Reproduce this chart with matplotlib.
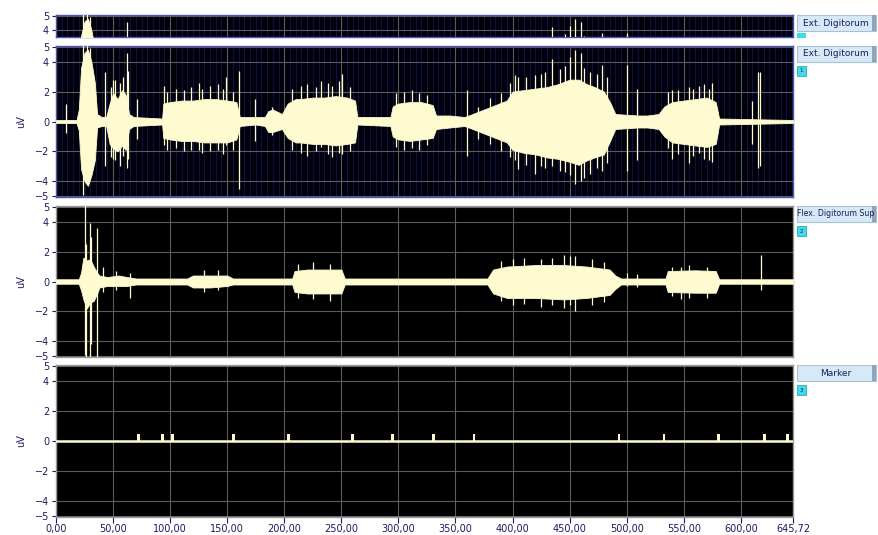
import numpy as np
import matplotlib
matplotlib.use("Agg")
import matplotlib.pyplot as plt
from matplotlib.patches import Rectangle
from matplotlib.ticker import MultipleLocator, FixedLocator

# --- channel 1: Ext. Digitorum (envelope knots + single spikes), seconds / uV
ch1_t = [0, 18, 20, 22, 25, 28, 31, 34, 36, 40, 44, 47, 50, 54, 58, 61, 64, 68, 93, 94, 100,
         110, 120, 130, 140, 150, 158, 161, 175, 183, 186, 190, 198, 203, 210, 214, 225, 235,
         245, 255, 262, 264, 293, 295, 300, 310, 320, 330, 333, 345, 358, 365, 375, 385, 395,
         400, 410, 420, 430, 440, 450, 458, 465, 472, 480, 486, 490, 510, 518, 528, 533, 540,
         550, 560, 570, 578, 581, 645.72]
ch1_up = [0.1, 0.1, 0.8, 3.6, 4.6, 4.8, 4.0, 2.6, 0.5, 0.3, 0.3, 1.2, 1.9, 1.5, 2.1, 1.8, 0.5,
          0.3, 0.2, 1.2, 1.3, 1.4, 1.4, 1.5, 1.5, 1.4, 1.3, 0.3, 0.3, 0.3, 0.7, 0.8, 0.5, 1.2,
          1.5, 1.5, 1.6, 1.6, 1.7, 1.6, 1.4, 0.3, 0.3, 1.0, 1.2, 1.3, 1.3, 1.1, 0.4, 0.4, 0.3,
          0.5, 0.8, 1.1, 1.4, 2.0, 2.1, 2.2, 2.3, 2.5, 2.8, 2.8, 2.5, 2.3, 2.0, 1.2, 0.5, 0.4,
          0.4, 0.5, 1.0, 1.3, 1.4, 1.5, 1.6, 1.3, 0.2, 0.1]
ch1_lo = [-0.1, -0.1, -0.6, -3.2, -4.0, -4.3, -3.6, -2.6, -0.4, -0.3, -0.3, -1.5, -1.8, -2.0,
          -1.6, -1.9, -0.5, -0.3, -0.2, -1.1, -1.2, -1.3, -1.3, -1.4, -1.4, -1.4, -1.2, -0.3,
          -0.2, -0.3, -0.7, -0.7, -0.5, -1.1, -1.4, -1.4, -1.5, -1.5, -1.6, -1.5, -1.4, -0.2,
          -0.3, -1.0, -1.2, -1.3, -1.2, -1.1, -0.5, -0.4, -0.3, -0.5, -0.8, -1.1, -1.4, -1.9,
          -2.1, -2.2, -2.4, -2.5, -2.7, -2.9, -2.6, -2.4, -2.2, -1.2, -0.5, -0.4, -0.4, -0.5,
          -1.0, -1.4, -1.5, -1.6, -1.7, -1.5, -0.2, -0.1]
ch1_spk_t = [8.5, 24, 27, 30, 43, 48, 50, 52, 56, 59, 62.5, 63.5, 71, 94.5, 97, 102, 105, 112,
             118, 125, 128, 135, 142, 146, 149, 155, 160, 174, 189, 207, 215, 220, 228, 232,
             238, 242, 248, 251, 258, 298, 305, 312, 318, 325, 360, 370, 380, 390, 398, 402,
             405, 412, 420, 425, 428, 435, 442, 446, 450, 455, 460, 463, 468, 474, 478, 483,
             500, 509, 536, 540, 545, 555, 558, 563, 568, 572, 575, 610, 615, 617]
ch1_spk_up = [1.2, 5.2, 5.3, 4.9, 3.3, 2.3, 2.8, 2.8, 2.6, 3.0, 4.6, 3.4, 1.5, 2.4, 2.0, 1.0,
              2.2, 2.1, 2.3, 2.6, 2.2, 2.4, 2.5, 2.2, 3.0, 2.0, 3.4, 1.5, 1.0, 2.2, 2.4, 2.5,
              2.3, 2.7, 2.6, 2.4, 2.7, 3.2, 2.3, 1.9, 2.0, 2.1, 1.9, 1.8, 2.1, 1.0, 1.6, 1.9,
              2.6, 3.1, 3.0, 3.0, 3.1, 3.2, 3.3, 4.2, 3.5, 3.7, 4.3, 4.8, 4.6, 3.6, 3.3, 3.2,
              3.8, 3.0, 3.8, 2.2, 2.0, 2.1, 2.1, 2.3, 2.2, 2.4, 2.5, 2.2, 2.6, 1.4, 3.3, 3.3]
ch1_spk_lo = [-0.8, -4.9, -4.2, -3.5, -3.0, -2.4, -2.5, -2.6, -3.0, -2.3, -3.1, -2.5, -1.2,
              -1.6, -1.9, -0.8, -1.8, -2.0, -1.9, -1.9, -2.1, -2.0, -1.9, -2.2, -1.6, -1.9,
              -4.5, -1.3, -0.9, -1.9, -2.1, -2.3, -2.0, -1.7, -2.2, -2.4, -2.1, -2.2, -2.0,
              -1.7, -1.9, -1.8, -1.9, -1.6, -2.3, -1.2, -1.5, -2.0, -2.4, -2.6, -3.2, -2.9,
              -3.5, -3.0, -3.1, -3.0, -3.3, -3.4, -3.6, -4.2, -4.0, -3.8, -3.5, -3.1, -3.3,
              -2.8, -3.3, -2.6, -1.8, -2.5, -2.2, -2.8, -2.3, -2.1, -2.5, -2.6, -2.7, -1.5,
              -3.1, -3.0]

# --- channel 2: Flex. Digitorum Sup
ch2_t = [0, 20, 22, 24, 27, 30, 33, 36, 38, 45, 55, 62, 70, 115, 120, 135, 150, 155, 207, 209,
         220, 235, 250, 253, 378, 383, 395, 420, 445, 465, 485, 490, 495, 534, 536, 560, 578,
         581, 645.72]
ch2_up = [0.15, 0.15, 0.6, 1.6, 1.4, 1.5, 1.0, 0.6, 0.4, 0.3, 0.4, 0.3, 0.2, 0.2, 0.4, 0.4,
          0.4, 0.2, 0.2, 0.7, 0.8, 0.8, 0.8, 0.2, 0.2, 0.8, 1.0, 1.1, 1.1, 1.0, 0.8, 0.4, 0.2,
          0.2, 0.7, 0.75, 0.7, 0.15, 0.15]
ch2_lo = [-0.15, -0.15, -0.6, -1.2, -1.8, -1.4, -1.3, -0.8, -0.4, -0.3, -0.3, -0.3, -0.2, -0.2,
          -0.4, -0.4, -0.3, -0.2, -0.2, -0.7, -0.8, -0.8, -0.8, -0.2, -0.2, -0.8, -1.1, -1.1,
          -1.2, -1.1, -0.9, -0.5, -0.2, -0.2, -0.7, -0.75, -0.75, -0.15, -0.15]
ch2_spk_t = [25.4, 26.5, 29.8, 31, 35.6, 41, 53, 65, 130, 142, 212, 225, 240, 390, 400, 410,
             425, 435, 445, 450, 455, 470, 480, 500, 509, 540, 548, 555, 570, 618]
ch2_spk_up = [5.1, 2.5, 3.9, 3.0, 3.6, 1.0, 0.7, 0.6, 0.8, 0.8, 1.2, 1.3, 1.2, 1.4, 1.5, 1.6,
              1.5, 1.6, 1.8, 1.7, 1.7, 1.5, 1.3, 0.6, 0.5, 1.0, 1.0, 1.1, 1.0, 1.8]
ch2_spk_lo = [-4.9, -5.1, -5.1, -4.2, -5.1, -0.7, -0.6, -1.1, -0.7, -0.6, -1.1, -1.2, -1.3,
              -1.3, -1.6, -1.5, -1.7, -1.6, -1.8, -1.6, -2.0, -1.6, -1.4, -0.3, -0.4, -1.0,
              -1.2, -1.1, -1.1, -0.6]

# --- channel 3: Marker pulses
marker_t = [72.1, 93.5, 102.2, 155.4, 203.9, 259.7, 294.7, 330.6, 366.3, 493.3, 532.7, 580.3,
            620.6, 640.8]
marker_h = [0.48] * len(marker_t)

t_end = 645.72
x_ticks = [0, 50, 100, 150, 200, 250, 300, 350, 400, 450, 500, 550, 600, 645.72]
y_ticks = [5, 4, 2, 0, -2, -4, -5]
labels = ["Ext. Digitorum", "Ext. Digitorum", "Flex. Digitorum Sup", "Marker"]

sig = "#fffbd0"
navy = "#1b1b5e"

fig = plt.figure(figsize=(8.79, 5.35), dpi=100)
L, W = 56 / 879, 737 / 879
rows = [(15, 37), (46, 197), (206, 357), (365, 517)]
axes = []
for top, bot in rows:
    axes.append(fig.add_axes([L, 1 - bot / 535, W, (bot - top) / 535]))


def draw_emg(ax, t, up, lo, st, su, sl):
    ax.fill_between(t, lo, up, color=sig, lw=0.6, edgecolor=sig, zorder=3)
    ax.vlines(st, sl, su, color=sig, lw=0.9, zorder=3)


for i, ax in enumerate(axes):
    blue = i < 2
    ax.set_facecolor("#00000c" if blue else "black")
    ax.set_xlim(0, t_end)
    if i == 0:
        ax.set_ylim(3.5, 5.07)
        ax.set_yticks([5, 4])
    else:
        ax.set_ylim(-5.05, 5.05)
        ax.set_yticks(y_ticks)
        ax.set_ylabel("uV", fontsize=7, color=navy, labelpad=6)
    ax.xaxis.set_major_locator(FixedLocator(x_ticks[:-1]))
    ax.grid(True, which="major", color="#5c5c5c", lw=0.8, zorder=1)
    if blue:
        ax.xaxis.set_minor_locator(MultipleLocator(5))
        ax.grid(True, which="minor", axis="x", color="#111848", lw=0.6, zorder=0)
    for s in ax.spines.values():
        s.set_color("#4a55b0" if blue else "#9a9a9a")
        s.set_linewidth(1.0)
    ax.tick_params(axis="y", labelsize=7, colors=navy, length=3, pad=2)
    ax.tick_params(axis="x", which="both", length=0, labelbottom=False)

for ax in axes[:2]:
    draw_emg(ax, ch1_t, ch1_up, ch1_lo, ch1_spk_t, ch1_spk_up, ch1_spk_lo)
draw_emg(axes[2], ch2_t, ch2_up, ch2_lo, ch2_spk_t, ch2_spk_up, ch2_spk_lo)

ax = axes[3]
ax.axhline(0, color=sig, lw=1.8, zorder=3)
ax.bar(marker_t, marker_h, width=2.2, color=sig, zorder=3)
ax.set_xticks(x_ticks)
ax.set_xticklabels([f"{v:.2f}".replace(".", ",") for v in x_ticks])
ax.tick_params(axis="x", labelbottom=True, length=4, colors=navy, labelsize=7, pad=1)

# channel name buttons on the right
bx, bw = 797, 79
for i, (top, bot) in enumerate(rows):
    fig.patches.append(Rectangle((bx / 879, 1 - (top + 16) / 535), bw / 879, 16 / 535,
                                 transform=fig.transFigure, fc="#d5e9f6", ec="#aebfcf",
                                 lw=0.8))
    fig.patches.append(Rectangle(((bx + bw - 4) / 879, 1 - (top + 16) / 535), 4 / 879,
                                 16 / 535, transform=fig.transFigure, fc="#8fa6bd", lw=0))
    fs = 5.6 if len(labels[i]) > 16 else 6.5
    fig.text((bx + bw / 2 - 1) / 879, 1 - (top + 8) / 535, labels[i], fontsize=fs,
             color=navy, va="center", ha="center")
    if i == 0:
        fig.patches.append(Rectangle((bx / 879, 1 - 38 / 535), 9 / 879, 5 / 535,
                                     transform=fig.transFigure, fc="#40dce6", lw=0))
    else:
        fig.patches.append(Rectangle((bx / 879, 1 - (top + 30) / 535), 9 / 879, 10 / 535,
                                     transform=fig.transFigure, fc="#40dce6", ec="#2aa8b8",
                                     lw=0.6))
        fig.text((bx + 4.5) / 879, 1 - (top + 25) / 535, str(i), fontsize=4, color=navy,
                 va="center", ha="center")

fig.savefig("out.png", dpi=100, facecolor="white")
